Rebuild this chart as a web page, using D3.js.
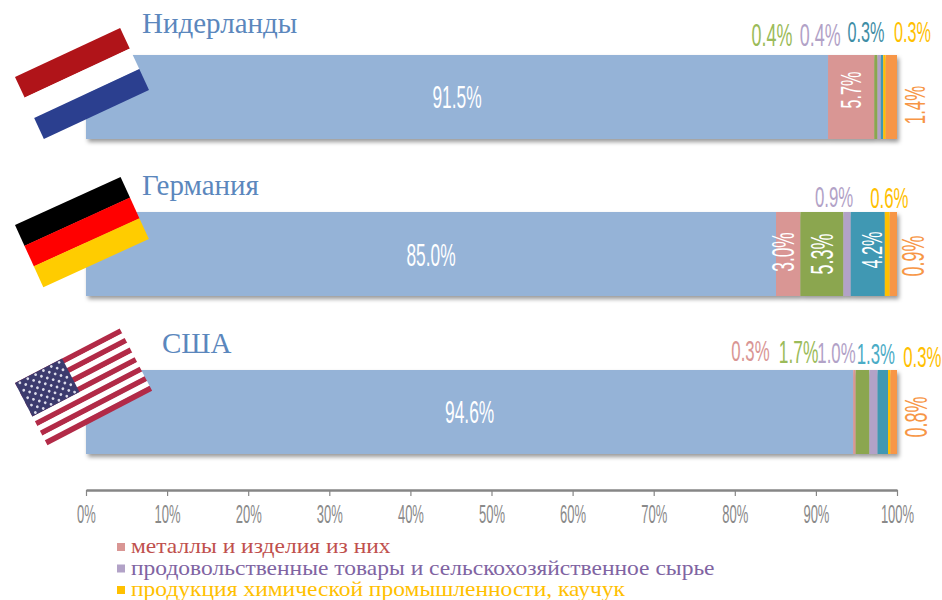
<!DOCTYPE html>
<html lang="ru">
<head>
    <meta charset="UTF-8">
    <title>Структура экспорта</title>
    <script src="https://d3js.org/d3.v7.min.js"></script>
    <style>
        html, body { margin: 0; padding: 0; background: #ffffff; overflow: hidden; }
        svg { display: block; }
        .num { font-family: "Liberation Sans", sans-serif; }
        .serif { font-family: "Liberation Serif", serif; }
    </style>
</head>
<body>
    <svg id="chart" width="942" height="600"></svg>
    <script>
        const countries = ['Нидерланды', 'Германия', 'США'];
        const seriesKeys = ['s1', 's2', 's3', 's4', 's5', 's6', 's7'];

        // one list per series, same order as countries
        const s1 = [91.5, 85.0, 94.6];
        const s2 = [5.7, 3.0, 0.3];   // металлы
        const s3 = [0.4, 5.3, 1.7];
        const s4 = [0.4, 0.9, 1.0];   // продовольствие
        const s5 = [0.3, 4.2, 1.3];
        const s6 = [0.3, 0.6, 0.3];   // химия
        const s7 = [1.4, 0.9, 0.8];
        const seriesValues = [s1, s2, s3, s4, s5, s6, s7];

        const tickValues = [0, 10, 20, 30, 40, 50, 60, 70, 80, 90, 100];
        const legendItems = [
            'металлы и изделия из них',
            'продовольственные товары и сельскохозяйственное сырье',
            'продукция химической промышленности, каучук'
        ];

        const barColors = ['#95b3d7', '#d99694', '#8ba64f', '#b2a2c7', '#4198b3', '#ffc000', '#f79646'];
        const labelColors = ['#ffffff', '#d99694', '#9bbb59', '#b2a2c7', '#4bacc6', '#ffc000', '#f79646'];

        const margin = { left: 86, right: 45 };
        const barTops = [55, 212, 370];
        const barHeight = 84;
        const axisY = 490;

        // label placement relative to the segment centre: dx, dy, rotation, font size, colour override
        const labelPlacement = [
            [[0, 0, 0, 31], [0, -7, -90, 29], [-104, -62, 0, 32], [-59, -62, 0, 32], [-16, -64.5, 0, 29, '#3f8ea6'], [28, -64.5, 0, 29], [23, 8, -90, 30]],
            [[0, 1, 0, 31], [-5, -2, -90, 31], [0, 0, -90, 32], [-13, -57, 0, 30], [4, -4, -90, 29], [2, -56, 0, 30], [20, 2, -90, 32]],
            [[0, 0, 0, 31], [-104, -61.5, 0, 30], [-64, -60, 0, 31], [-37, -59.5, 0, 30], [-7, -58.5, 0, 30], [33, -55, 0, 30], [22, 5, -90, 32]]
        ];
        const titleX = [142, 142, 162];
        const titleY = [33, 195, 353];

        const flagPlace = [
            { x: 15, y: 77, w: 116, h: 68, a: -25 },
            { x: 15, y: 225, w: 116, h: 68, a: -24.5 },
            { x: 15, y: 383, w: 118, h: 70, a: -27.5 }
        ];

        const svg = d3.select('#chart');
        const width = +svg.attr('width');

        const defs = svg.append('defs');
        const shadow = defs.append('filter').attr('id', 'barShadow')
            .attr('x', '-5%').attr('y', '-10%').attr('width', '110%').attr('height', '130%');
        shadow.append('feDropShadow').attr('dx', 2).attr('dy', 3)
            .attr('stdDeviation', 2).attr('flood-color', '#000').attr('flood-opacity', 0.4);

        const rows = countries.map((name, i) => {
            const row = { name };
            seriesKeys.forEach((k, j) => { row[k] = seriesValues[j][i]; });
            return row;
        });

        // USA adds up to 100.1, so the bars get normalised
        const stacked = d3.stack().keys(seriesKeys).offset(d3.stackOffsetExpand)(rows);

        const x = d3.scaleLinear().domain([0, 1]).range([margin.left, width - margin.right]);
        const y = d3.scaleOrdinal().domain(countries).range(barTops);

        // bars
        const barGroups = svg.selectAll('.country')
            .data(countries)
            .join('g')
            .attr('class', 'country')
            .attr('filter', 'url(#barShadow)');

        barGroups.selectAll('rect')
            .data((d, i) => stacked.map((s, j) => ({ v: s[i], color: barColors[j], name: d })))
            .join('rect')
            .attr('x', d => x(d.v[0]))
            .attr('width', d => x(d.v[1]) - x(d.v[0]))
            .attr('y', d => y(d.name))
            .attr('height', barHeight)
            .attr('fill', d => d.color);

        // no condensed font installed, so squeeze the sans horizontally
        function numText(parent, str, size, color) {
            return parent.append('text')
                .attr('class', 'num')
                .attr('text-anchor', 'middle')
                .attr('font-size', size)
                .attr('fill', color)
                .attr('transform', 'scale(0.56,1)')
                .text(str);
        }

        // value labels
        countries.forEach((name, i) => {
            seriesKeys.forEach((k, j) => {
                const p = labelPlacement[i][j];
                const seg = stacked[j][i];
                const cx = x((seg[0] + seg[1]) / 2) + p[0];
                const cy = y(name) + barHeight / 2 + p[1];
                const inside = (i === 0 && j < 2) || (i === 1 && (j === 0 || j === 1 || j === 2 || j === 4)) || (i === 2 && j === 0);
                const color = inside ? '#ffffff' : (p[4] || labelColors[j]);
                const g = svg.append('g').attr('transform', `translate(${cx},${cy}) rotate(${p[2]})`);
                numText(g, d3.format('.1f')(seriesValues[j][i]) + '%', p[3], color)
                    .attr('dominant-baseline', 'central');
            });
        });

        // country titles
        svg.selectAll('.title')
            .data(countries)
            .join('text')
            .attr('class', 'title serif')
            .attr('x', (d, i) => titleX[i])
            .attr('y', (d, i) => titleY[i])
            .attr('font-size', 29)
            .attr('fill', '#5b87bd')
            .text(d => d);

        // flags
        function stripes(g, w, h, colors) {
            colors.forEach((c, i) => {
                g.append('rect').attr('x', 0).attr('y', i * h / colors.length)
                    .attr('width', w).attr('height', h / colors.length + 0.3).attr('fill', c);
            });
        }
        const flagGroups = flagPlace.map(f => svg.append('g')
            .attr('transform', `translate(${f.x},${f.y}) rotate(${f.a})`));

        stripes(flagGroups[0], flagPlace[0].w, flagPlace[0].h, ['#b01419', '#ffffff', '#2b3f8f']);
        stripes(flagGroups[1], flagPlace[1].w, flagPlace[1].h, ['#000000', '#ff0000', '#ffcc00']);

        const us = flagPlace[2];
        stripes(flagGroups[2], us.w, us.h, d3.range(13).map(i => i % 2 ? '#ffffff' : '#b22a47'));
        const cantonW = us.w * 0.45, cantonH = us.h * 7 / 13;
        flagGroups[2].append('rect').attr('width', cantonW).attr('height', cantonH).attr('fill', '#3c3b6e');
        d3.range(9).forEach(r => {
            const n = r % 2 ? 5 : 6;
            d3.range(n).forEach(c => {
                flagGroups[2].append('circle')
                    .attr('cx', (c + (r % 2 ? 1 : 0.5)) * cantonW / 6)
                    .attr('cy', (r + 0.5) * cantonH / 9)
                    .attr('r', 1.4)
                    .attr('fill', '#dcdcea');
            });
        });

        // axis
        const axis = d3.axisBottom(x)
            .tickValues(tickValues.map(d => d / 100))
            .tickFormat(d => Math.round(d * 100) + '%')
            .tickSize(6)
            .tickPadding(9)
            .tickSizeOuter(0);
        const axisG = svg.append('g').attr('transform', `translate(0,${axisY})`).call(axis);
        axisG.select('.domain').attr('stroke', '#868686').attr('stroke-width', 2.5);
        axisG.selectAll('.tick line').attr('stroke', '#868686').attr('stroke-width', 1.2);
        axisG.selectAll('.tick text')
            .attr('class', 'num')
            .attr('font-size', 25)
            .attr('fill', '#8a8a8a')
            .attr('transform', 'scale(0.52,1)')
            .style('font-family', '"Liberation Sans", sans-serif');

        // legend
        const legendColors = [barColors[1], barColors[3], barColors[5]];
        const legendText = ['#c0504d', '#8064a2', '#ffc000'];
        const legendY = d3.scalePoint().domain(legendItems).range([547, 590]);
        const legend = svg.selectAll('.legend')
            .data(legendItems)
            .join('g')
            .attr('class', 'legend')
            .attr('transform', d => `translate(117,${legendY(d)})`);
        legend.append('rect')
            .attr('y', -4).attr('width', 8).attr('height', 8)
            .attr('fill', (d, i) => legendColors[i]);
        legend.append('text')
            .attr('class', 'serif')
            .attr('transform', 'translate(14,6) scale(1.12,1)')
            .attr('font-size', 21)
            .attr('fill', (d, i) => legendText[i])
            .text(d => d);
    </script>
</body>
</html>
